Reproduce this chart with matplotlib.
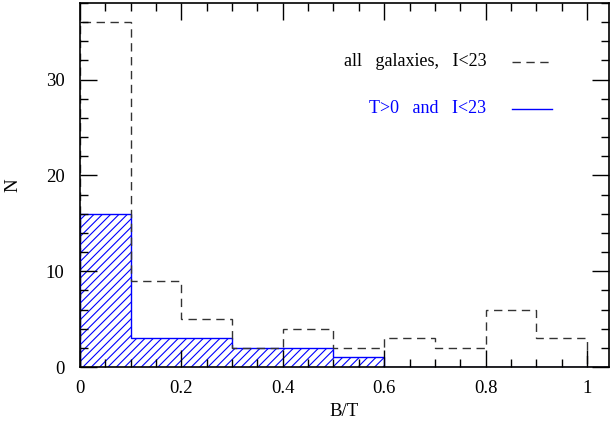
import numpy as np
import matplotlib
matplotlib.use("Agg")
import matplotlib.pyplot as plt
from matplotlib.ticker import MultipleLocator

# bin edges of B/T and counts per bin
bin_edges = [0.0, 0.1, 0.2, 0.3, 0.4, 0.5, 0.6, 0.7, 0.8, 0.9, 1.0, 1.1]
all_counts = [36, 9, 5, 2, 4, 2, 3, 2, 6, 3, 0]
late_counts = [16, 3, 3, 2, 2, 1, 0, 0, 0, 0, 0]

plt.rcParams['font.family'] = ['Liberation Serif', 'DejaVu Serif']
plt.rcParams['hatch.color'] = 'blue'
plt.rcParams['hatch.linewidth'] = 0.8

fig = plt.figure(figsize=(6.1, 4.28), dpi=100)
ax = fig.add_axes([0.131, 0.1425, 0.867, 0.8505])

edges = np.array(bin_edges)
ax.stairs(late_counts, edges, fill=True, facecolor='none', edgecolor='blue',
          hatch='////', linewidth=0)
ax.stairs(late_counts, edges, color='blue', linewidth=1.0)
ax.stairs(all_counts, edges, color='#333333', linewidth=1.0, linestyle=(0, (6, 4)))

ax.set_xlim(0, 1.043)
ax.set_ylim(0, 38)
ax.xaxis.set_major_locator(MultipleLocator(0.2))
ax.xaxis.set_minor_locator(MultipleLocator(0.05))
ax.yaxis.set_major_locator(MultipleLocator(10))
ax.yaxis.set_minor_locator(MultipleLocator(2))
ax.set_xticks([0, 0.2, 0.4, 0.6, 0.8, 1.0])
ax.set_xticklabels(['0', '0.2', '0.4', '0.6', '0.8', '1'])
ax.tick_params(which='both', direction='in', top=True, right=True, labelsize=13.5)
ax.tick_params(which='major', length=12, width=1)
ax.tick_params(which='minor', length=6, width=1)
ax.tick_params(axis='x', which='major', pad=9)
ax.tick_params(axis='y', which='major', pad=11)
for s in ax.spines.values():
    s.set_linewidth(1.2)

ax.set_xlabel('B/T', fontsize=13.5)
ax.set_ylabel('N', fontsize=13.5)
ax.xaxis.set_label_coords(0.5, -0.099)
ax.yaxis.set_label_coords(-0.111, 0.5)

ax.text(0.769, 0.838, 'all   galaxies,   I<23', transform=ax.transAxes,
        ha='right', va='center', fontsize=13, color='black')
ax.plot([0.817, 0.892], [0.838, 0.838], transform=ax.transAxes,
        color='#333333', linewidth=1.0, linestyle=(0, (6, 4)))
ax.text(0.769, 0.709, 'T>0   and   I<23', transform=ax.transAxes,
        ha='right', va='center', fontsize=13, color='blue')
ax.plot([0.817, 0.892], [0.709, 0.709], transform=ax.transAxes,
        color='blue', linewidth=1.0)

fig.savefig('out.png', dpi=100)
